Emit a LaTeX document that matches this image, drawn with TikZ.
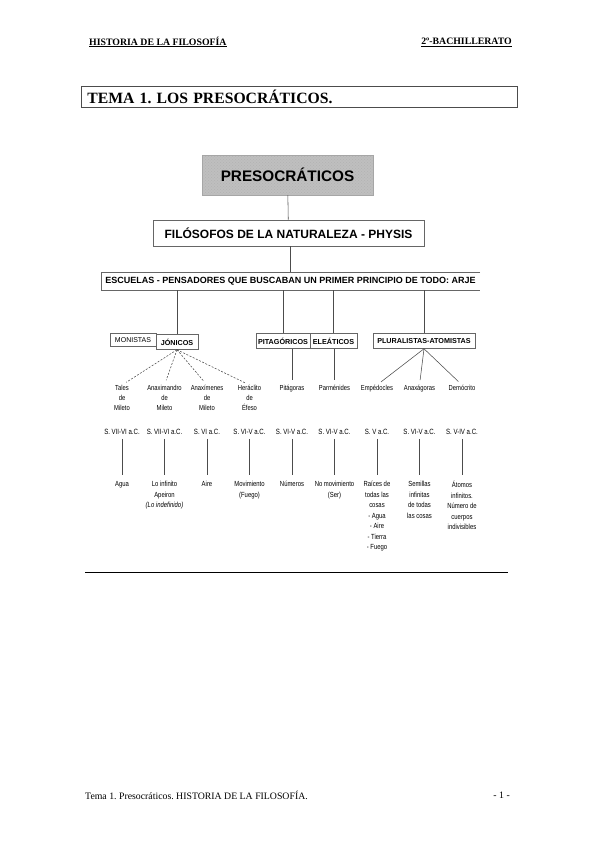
\documentclass[tikz,border=0pt]{standalone}
\usepackage{fontspec}
\setmainfont{Liberation Serif}
\setsansfont{Liberation Sans}
\newfontfamily\condsans[FakeStretch=0.8]{Liberation Sans}
\usetikzlibrary{patterns}
\frenchspacing
\begin{document}
\begin{tikzpicture}[x=1pt,y=-1pt,
 hdr/.style={inner sep=0pt, font=\fontsize{9.8}{11}\selectfont\bfseries},
 ftr/.style={inner sep=0pt, font=\fontsize{9.8}{11}\selectfont},
 ttl/.style={draw=black!70, line width=0.8pt, inner xsep=6pt, inner ysep=0pt, font=\fontsize{15.7}{17}\selectfont\bfseries, align=left},
 big/.style={font=\sffamily\bfseries\fontsize{15.3}{17}\selectfont, text=black, fill=gray!50, draw=gray!70, minimum width=171pt, minimum height=40pt, inner sep=0pt, preaction={fill=gray!50}, pattern=crosshatch dots, pattern color=black!30},
 lvl/.style={draw=black!60, line width=0.6pt, font=\sffamily\bfseries\fontsize{12}{14}\selectfont, inner sep=0pt},
 school/.style={draw=black!60, line width=0.5pt, font=\sffamily\bfseries\fontsize{7.2}{8}\selectfont, inner sep=0pt, minimum height=15pt},
 who/.style={font=\condsans\fontsize{7.3}{10}\selectfont, align=center, inner sep=0pt, anchor=north},
 when/.style={font=\condsans\fontsize{7.6}{8}\selectfont, inner sep=0pt},
 what/.style={font=\condsans\fontsize{7.4}{10.5}\selectfont, align=center, inner sep=0pt, anchor=north},
 link/.style={draw=black!70, line width=0.55pt},
 dlink/.style={link, dash pattern=on 2pt off 1.5pt}]
\useasboundingbox (0,0) rectangle (599,848);
% header
\node[hdr, anchor=west] (h1) at (89,42) {\underline{HISTORIA DE LA FILOSOFÍA}};
\node[hdr, anchor=east] (h2) at (512,42) {\underline{2º-BACHILLERATO}};
% title
\node[ttl, anchor=north west, minimum height=21pt, text width=424pt] (title) at (81,86) {TEMA 1. LOS PRESOCRÁTICOS.};
% diagram boxes
\node[big] (pre) at (287.5,175) {PRESOCRÁTICOS};
\node[lvl, minimum width=271pt, minimum height=26pt] (filo) at (288.5,233) {FILÓSOFOS DE LA NATURALEZA - PHYSIS};
\node[font=\sffamily\bfseries\fontsize{9}{10}\selectfont, inner sep=0pt, minimum width=379pt, minimum height=18pt] (esc) at (290.5,281) {ESCUELAS - PENSADORES QUE BUSCABAN UN PRIMER PRINCIPIO DE TODO: ARJE};
\draw[draw=black!60, line width=0.6pt] (esc.north east) -- (esc.north west) -- (esc.south west) -- (esc.south east);
% schools
\node[school, font=\sffamily\fontsize{7}{8}\selectfont, minimum width=46pt, minimum height=13pt] (mon) at (133,340) {MONISTAS};
\node[school, minimum width=42pt] (jon) at (177,342) {JÓNICOS};
\node[school, minimum width=54pt] (pit) at (283,341) {PITAGÓRICOS};
\node[school, minimum width=47pt] (ele) at (333.5,341) {ELEÁTICOS};
\node[school, minimum width=102pt] (plu) at (424,341) {PLURALISTAS-ATOMISTAS};
% names
\node[who] (n1) at (122,385) {Tales\\de\\Mileto};
\node[who] (n2) at (164.5,385) {Anaximandro\\de\\Mileto};
\node[who] (n3) at (207,385) {Anaxímenes\\de\\Mileto};
\node[who] (n4) at (249.5,385) {Heráclito\\de\\Éfeso};
\node[who] (n5) at (292,385) {Pitágoras};
\node[who] (n6) at (334.5,385) {Parménides};
\node[who] (n7) at (377,385) {Empédocles};
\node[who] (n8) at (419.5,385) {Anaxágoras};
\node[who] (n9) at (462,385) {Demócrito};
% dates
\node[when] (d1) at (122,432) {S. VII-VI a.C.};
\node[when] (d2) at (164.5,432) {S. VII-VI a.C.};
\node[when] (d3) at (207,432) {S. VI a.C.};
\node[when] (d4) at (249.5,432) {S. VI-V a.C.};
\node[when] (d5) at (292,432) {S. VI-V a.C.};
\node[when] (d6) at (334.5,432) {S. VI-V a.C.};
\node[when] (d7) at (377,432) {S. V a.C.};
\node[when] (d8) at (419.5,432) {S. VI-V a.C.};
\node[when] (d9) at (462,432) {S. V-IV a.C.};
% principles
\node[what] (v1) at (122,481) {Agua};
\node[what] (v2) at (164.5,481) {Lo infinito\\Apeiron\\\textit{(Lo indefinido)}};
\node[what] (v3) at (207,481) {Aire};
\node[what] (v4) at (249.5,481) {Movimiento\\(Fuego)};
\node[what] (v5) at (292,481) {Números};
\node[what] (v6) at (334.5,481) {No movimiento\\(Ser)};
\node[what] (v7) at (377,481) {Raíces de\\todas las\\cosas\\- Agua\\- Aire\\- Tierra\\- Fuego};
\node[what] (v8) at (419.5,481) {Semillas\\infinitas\\de todas\\las cosas};
\node[what] (v9) at (462,481) {Átomos\\infinitos.\\Número de\\cuerpos\\indivisibles};
% connectors
\draw[link] (pre) -- (filo);
\draw[link] (filo.south -| esc.north) -- (esc.north);
\draw[link] (esc.south -| jon.north) -- (jon.north);
\draw[link] (esc.south -| pit.north) -- (pit.north);
\draw[link] (esc.south -| ele.north) -- (ele.north);
\draw[link] (esc.south -| plu.north) -- (plu.north);
\foreach \n in {n1,n2,n3,n4}
  \draw[dlink, shorten >=5pt] (jon.south) -- (\n.north);
\draw[link, shorten >=5pt] (pit.south -| n5.north) -- (n5.north);
\draw[link, shorten >=5pt] (ele.south -| n6.north) -- (n6.north);
\foreach \n in {n7,n8,n9}
  \draw[link, shorten >=5pt] (plu.south) -- (\n.north);
\foreach \i in {1,...,9}
  \draw[link, shorten <=4pt, shorten >=6pt] (d\i.south) -- (v\i.north);
% rule below the diagram
\draw[line width=1.5pt] (85,572.5) -- (508,572.5);
% footer
\node[ftr, anchor=west] (f1) at (85,795) {Tema 1. Presocráticos. HISTORIA DE LA FILOSOFÍA.};
\node[ftr, anchor=east] (f2) at (510,795) {- 1 -};
\end{tikzpicture}
\end{document}
